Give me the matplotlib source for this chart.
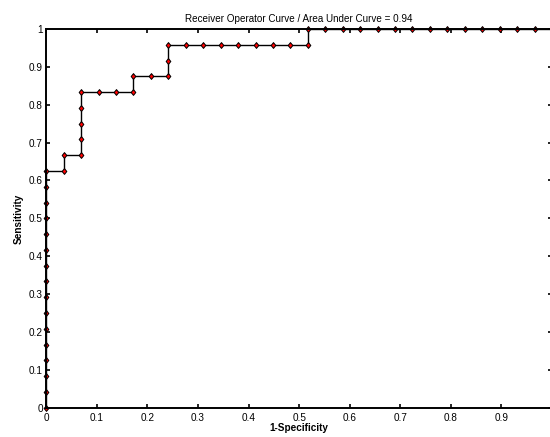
import matplotlib
matplotlib.use("Agg")
import matplotlib.pyplot as plt

# ROC points (1-Specificity, Sensitivity)
fpr = [0, 0, 0, 0, 0, 0, 0, 0, 0, 0, 0, 0, 0, 0, 0, 0,
       0.0345, 0.0345, 0.069, 0.069, 0.069, 0.069, 0.069,
       0.1034, 0.1379, 0.1724, 0.1724, 0.2069, 0.2414, 0.2414, 0.2414,
       0.2759, 0.3103, 0.3448, 0.3793, 0.4138, 0.4483, 0.4828, 0.5172,
       0.5172, 0.5517, 0.5862, 0.6207, 0.6552, 0.6897, 0.7241, 0.7586,
       0.7931, 0.8276, 0.8621, 0.8966, 0.931, 0.9655, 1.0]
tpr = [0, 0.0417, 0.0833, 0.125, 0.1667, 0.2083, 0.25, 0.2917, 0.3333,
       0.375, 0.4167, 0.4583, 0.5, 0.5417, 0.5833, 0.625,
       0.625, 0.6667, 0.6667, 0.7083, 0.75, 0.7917, 0.8333,
       0.8333, 0.8333, 0.8333, 0.875, 0.875, 0.875, 0.9167, 0.9583,
       0.9583, 0.9583, 0.9583, 0.9583, 0.9583, 0.9583, 0.9583, 0.9583,
       1, 1, 1, 1, 1, 1, 1, 1,
       1, 1, 1, 1, 1, 1, 1]
auc = 0.94

xticks = [0, 0.1, 0.2, 0.3, 0.4, 0.5, 0.6, 0.7, 0.8, 0.9, 1]
xticklabels = ["0", "0.1", "0.2", "0.3", "0.4", "0.5", "0.6", "0.7", "0.8", "0.9", ""]
yticks = [0, 0.1, 0.2, 0.3, 0.4, 0.5, 0.6, 0.7, 0.8, 0.9, 1]
yticklabels = ["0", "0.1", "0.2", "0.3", "0.4", "0.5", "0.6", "0.7", "0.8", "0.9", "1"]

plt.rcParams['font.family'] = ['Liberation Sans', 'DejaVu Sans']

fig = plt.figure(figsize=(5.5, 4.37), dpi=100)
ax = fig.add_axes([46.3/550, (437-407.7)/437, (552-46.3)/550, (407.7-29)/437])

diamond = [(0, 1), (0.8, 0), (0, -1), (-0.8, 0), (0, 1)]
ax.plot(fpr, tpr, color='black', linewidth=1.0, marker=diamond, markersize=4.2,
        markerfacecolor='#ff0000', markeredgecolor='black', markeredgewidth=0.7,
        clip_on=False, zorder=2)

ax.set_xlim(0, 1)
ax.set_ylim(0, 1)
ax.set_xticks(xticks)
ax.set_xticklabels(xticklabels)
ax.set_yticks(yticks)
ax.set_yticklabels(yticklabels)
ax.tick_params(direction='in', length=3, width=1.2, top=True, right=True,
               labelsize=7.2, colors='black', pad=2.5)
ax.tick_params(axis='x', pad=3.5)
for s in ax.spines.values():
    s.set_linewidth(1.4)
    s.set_zorder(3)

ax.set_title(f"Receiver Operator Curve / Area Under Curve = {auc:.2f}", fontsize=7.1, pad=5)
ax.set_xlabel("1-Specificity", fontsize=7.2, fontweight='bold', labelpad=0.5)
ax.set_ylabel("Sensitivity", fontsize=7.2, fontweight='bold', labelpad=4)

fig.savefig("out.png", dpi=100)
